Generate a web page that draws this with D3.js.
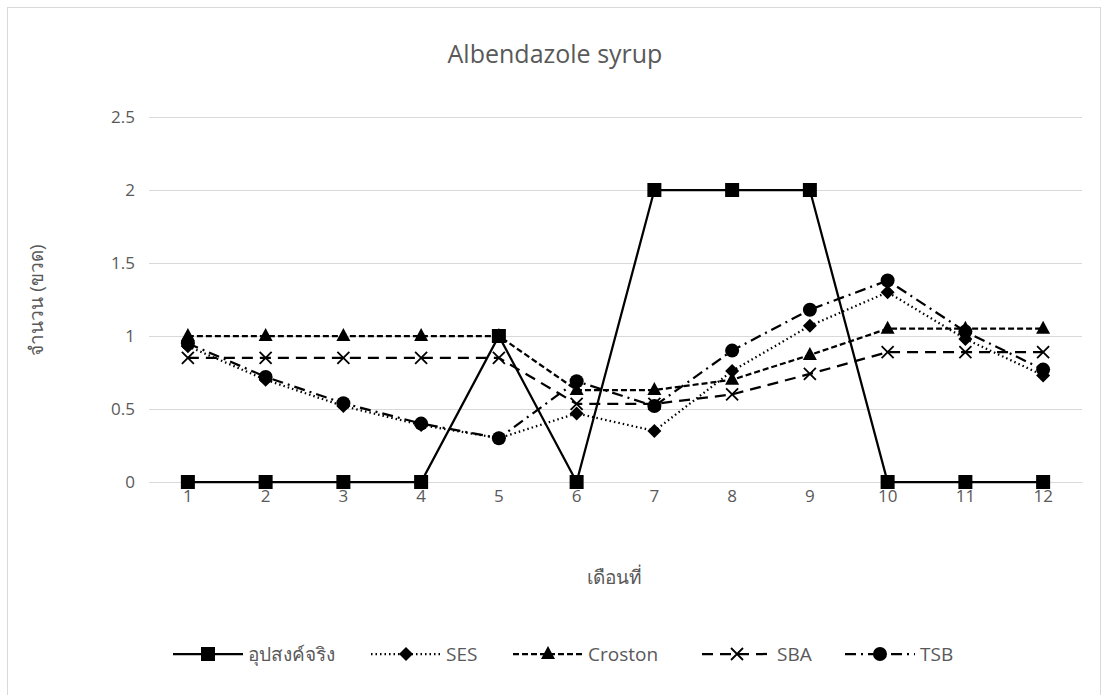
<!DOCTYPE html>
<html>
<head>
<meta charset="utf-8">
<script src="https://cdn.jsdelivr.net/npm/d3@7"></script>
<style>
  html, body { margin: 0; padding: 0; background: #fff; }
  svg text { font-family: "Open Sans", "Noto Sans", "DejaVu Sans", sans-serif; fill: #595959; }
</style>
</head>
<body>
<svg id="chart" width="1108" height="695"></svg>
<script>
// Monthly demand and forecasts for Albendazole syrup
const months = ["1","2","3","4","5","6","7","8","9","10","11","12"];
const actual  = [0, 0, 0, 0, 1, 0, 2, 2, 2, 0, 0, 0];
const ses     = [0.93, 0.70, 0.52, 0.39, 0.30, 0.47, 0.35, 0.76, 1.07, 1.30, 0.98, 0.73];
const croston = [1, 1, 1, 1, 1, 0.63, 0.63, 0.70, 0.87, 1.05, 1.05, 1.05];
const sba     = [0.85, 0.85, 0.85, 0.85, 0.85, 0.535, 0.535, 0.60, 0.74, 0.89, 0.89, 0.89];
const tsb     = [0.95, 0.72, 0.54, 0.40, 0.30, 0.69, 0.52, 0.90, 1.18, 1.38, 1.03, 0.77];
const yTicks  = [0, 0.5, 1, 1.5, 2, 2.5];

const series = [
  { name: "อุปสงค์จริง", values: actual,  dash: null,          marker: "square",   legendX: 173 },
  { name: "SES",         values: ses,     dash: "1.5,3",       marker: "diamond",  legendX: 371 },
  { name: "Croston",     values: croston, dash: "6,3",         marker: "triangle", legendX: 513 },
  { name: "SBA",         values: sba,     dash: "11,7",        marker: "cross",    legendX: 702 },
  { name: "TSB",         values: tsb,     dash: "11,5,2,5",    marker: "circle",   legendX: 845 }
];

const svg = d3.select("#chart");

// chart frame
svg.append("rect")
  .attr("x", 7.5).attr("y", 7.5)
  .attr("width", 1093).attr("height", 700)
  .attr("fill", "#fff").attr("stroke", "#d9d9d9").attr("stroke-width", 1);

const plot = { left: 149, right: 1082, top: 117, bottom: 482 };

const x = d3.scaleBand().domain(months).range([plot.left, plot.right]);
const y = d3.scaleLinear().domain([0, 2.5]).range([plot.bottom, plot.top]);
const cx = m => x(m) + x.bandwidth() / 2;

// title
svg.append("text")
  .attr("x", 555).attr("y", 63)
  .attr("text-anchor", "middle")
  .attr("font-size", 25)
  .text("Albendazole syrup");

// horizontal gridlines + y tick labels
const yAxis = d3.axisLeft(y).tickValues(yTicks).tickSize(-(plot.right - plot.left)).tickPadding(14)
  .tickFormat(d => String(d));
const gy = svg.append("g").attr("transform", `translate(${plot.left},0)`).call(yAxis);
gy.select(".domain").remove();
gy.selectAll(".tick line").attr("stroke", "#d9d9d9").attr("stroke-width", 1);
gy.selectAll(".tick text").attr("font-size", 17).attr("fill", "#595959");

// x tick labels
const xAxis = d3.axisBottom(x).tickSize(0).tickPadding(8);
const gx = svg.append("g").attr("transform", `translate(0,${plot.bottom})`).call(xAxis);
gx.select(".domain").attr("stroke", "#d9d9d9");
gx.selectAll(".tick text").attr("font-size", 17).attr("fill", "#595959");

// axis titles
svg.append("text")
  .attr("x", cx("6") + 38).attr("y", 584)
  .attr("text-anchor", "middle").attr("font-size", 19)
  .text("เดือนที่");
svg.append("text")
  .attr("transform", "translate(43,300) rotate(-90)")
  .attr("text-anchor", "middle").attr("font-size", 19)
  .text("จำนวน (ขวด)");

// marker drawing
function drawMarker(g, type, px, py) {
  if (type === "square") {
    g.append("rect").attr("x", px - 7).attr("y", py - 7).attr("width", 14).attr("height", 14).attr("fill", "#000");
  } else if (type === "diamond") {
    g.append("path").attr("d", `M${px},${py - 7}L${px + 7},${py}L${px},${py + 7}L${px - 7},${py}Z`).attr("fill", "#000");
  } else if (type === "triangle") {
    g.append("path").attr("d", `M${px},${py - 8}L${px + 7},${py + 5}L${px - 7},${py + 5}Z`).attr("fill", "#000");
  } else if (type === "cross") {
    g.append("path").attr("d", `M${px - 6},${py - 6}L${px + 6},${py + 6}M${px + 6},${py - 6}L${px - 6},${py + 6}`)
      .attr("stroke", "#000").attr("stroke-width", 1.8).attr("fill", "none");
  } else if (type === "circle") {
    g.append("circle").attr("cx", px).attr("cy", py).attr("r", 7).attr("fill", "#000");
  }
}

const line = d3.line().x((d, i) => cx(months[i])).y(d => y(d));

// series lines and markers (drawn back to front)
[...series].reverse().forEach(s => {
  const g = svg.append("g");
  g.append("path")
    .attr("d", line(s.values))
    .attr("fill", "none")
    .attr("stroke", "#000")
    .attr("stroke-width", 2.25)
    .attr("stroke-dasharray", s.dash);
  s.values.forEach((v, i) => drawMarker(g, s.marker, cx(months[i]), y(v)));
});

// legend
const ly = 654;
series.forEach(s => {
  const g = svg.append("g");
  g.append("line")
    .attr("x1", s.legendX).attr("x2", s.legendX + 70)
    .attr("y1", ly).attr("y2", ly)
    .attr("stroke", "#000").attr("stroke-width", 2.25)
    .attr("stroke-dasharray", s.dash);
  drawMarker(g, s.marker, s.legendX + 35, ly);
  g.append("text")
    .attr("x", s.legendX + 75).attr("y", ly + 7)
    .attr("font-size", 19)
    .text(s.name);
});
</script>
</body>
</html>
